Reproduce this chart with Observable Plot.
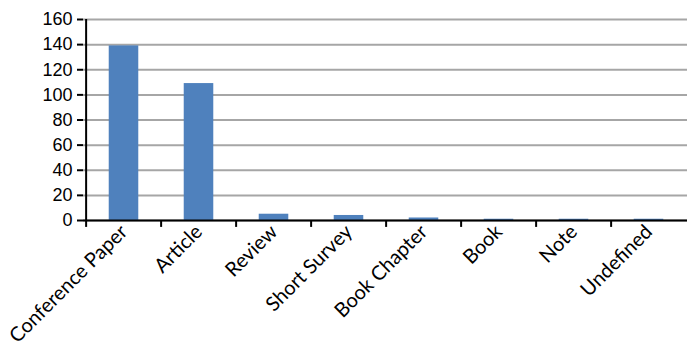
<!DOCTYPE html>
<html>
<head>
<meta charset="utf-8">
<script src="https://cdn.jsdelivr.net/npm/d3@7"></script>
<script src="https://cdn.jsdelivr.net/npm/@observablehq/plot@0.6"></script>
<style>
  html, body { margin: 0; padding: 0; background: #fff; }
  #chart svg { display: block; }
</style>
</head>
<body>
<div id="chart"></div>
<script>
const categories = ["Conference Paper", "Article", "Review", "Short Survey", "Book Chapter", "Book", "Note", "Undefined"];
const counts = [139, 109, 5, 4, 2, 1, 1, 1];
const yTicks = [0, 20, 40, 60, 80, 100, 120, 140, 160];

const data = categories.map((c, i) => ({category: c, count: counts[i]}));

const W = 687, H = 350;
const left = 83, right = 689;
const bw = (right - left) / categories.length;

const chart = Plot.plot({
  width: W,
  height: H,
  marginLeft: left,
  marginRight: 0,
  marginTop: 19,
  marginBottom: 130,
  style: {background: "#fff", overflow: "visible"},
  x: {domain: categories, range: [left, right], padding: 0},
  y: {domain: [0, 160], ticks: yTicks},
  marks: [
    Plot.gridY(yTicks, {stroke: "#a6a6a6", strokeOpacity: 1, strokeWidth: 2}),
    Plot.barY(data, {x: "category", y: "count", fill: "#4f81bd", insetLeft: bw * 0.3, insetRight: bw * 0.3}),
    Plot.ruleY([0], {stroke: "#000", strokeWidth: 2}),
    Plot.ruleX(categories, {x: d => d, dx: -bw / 2, y1: -5.5, y2: 0, stroke: "#000", strokeWidth: 2}),
    Plot.ruleX([categories[0]], {dx: -bw / 2, y1: 0, y2: 160, stroke: "#000", strokeWidth: 2}),
    Plot.axisY(yTicks, {tickSize: 6, tickPadding: 5, strokeWidth: 2, stroke: "#000", fontSize: 18, fontFamily: "Liberation Sans", fill: "#000", label: null}),
    Plot.axisX({tickSize: 0, tickRotate: -45, tickPadding: 8, fontSize: 20, fontFamily: "Lato", fill: "#000", label: null})
  ]
});
document.getElementById("chart").appendChild(chart);
</script>
</body>
</html>
